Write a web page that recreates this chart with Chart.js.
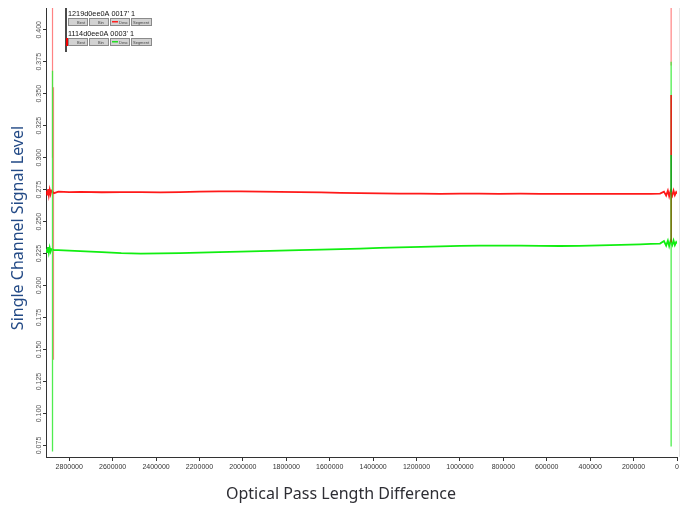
<!DOCTYPE html>
<html lang="en">
<head>
<meta charset="UTF-8">
<title>Single Channel Signal Level</title>
<style>
  html, body { margin: 0; padding: 0; background: #fff; }
  #wrap { width: 688px; height: 506px; }
</style>
</head>
<body>
<div id="wrap"><canvas id="myChart" width="688" height="506"></canvas></div>

<script src="https://cdn.jsdelivr.net/npm/chart.js"></script>
<script>
// ---- data ----
const legendNames = ["1219d0ee0A 0017' 1", "1114d0ee0A 0003' 1"];
const xTicks = [0, 200000, 400000, 600000, 800000, 1000000, 1200000, 1400000,
  1600000, 1800000, 2000000, 2200000, 2400000, 2600000, 2800000];
const yTicks = [0.075, 0.100, 0.125, 0.150, 0.175, 0.200, 0.225, 0.250,
  0.275, 0.300, 0.325, 0.350, 0.375, 0.400];

const redX = [2906000, 2902000, 2898000, 2894000, 2890000, 2886000, 2882000, 2870000, 2850000, 2800000,
  2750000, 2650000, 2560000, 2470000, 2380000, 2290000, 2200000, 2110000, 2010000, 1920000,
  1830000, 1740000, 1640000, 1550000, 1460000, 1370000, 1280000, 1180000, 1090000, 1000000,
  910000, 820000, 720000, 630000, 540000, 450000, 355000, 260000, 170000, 120000,
  78000, 60000, 50000, 42000, 36000, 30000, 22000, 16000, 10000, 4000, 0];
const redY = [0.27422, 0.27109, 0.27539, 0.27070, 0.27500, 0.27148, 0.27422, 0.27227, 0.27344, 0.27305,
  0.27320, 0.27297, 0.27305, 0.27313, 0.27281, 0.27305, 0.27344, 0.27359, 0.27359, 0.27344,
  0.27320, 0.27305, 0.27281, 0.27250, 0.27227, 0.27203, 0.27188, 0.27188, 0.27172, 0.27188,
  0.27188, 0.27172, 0.27188, 0.27172, 0.27164, 0.27172, 0.27164, 0.27172, 0.27172, 0.27172,
  0.27188, 0.27344, 0.27031, 0.27422, 0.26992, 0.27383, 0.27031, 0.27422, 0.27070, 0.27305, 0.27188];

const greenX = redX;
const greenY = [0.22891, 0.22617, 0.23008, 0.22578, 0.22969, 0.22656, 0.22852, 0.22773, 0.22773, 0.22734,
  0.22695, 0.22617, 0.22539, 0.22500, 0.22516, 0.22539, 0.22578, 0.22617, 0.22656, 0.22695,
  0.22734, 0.22773, 0.22813, 0.22852, 0.22891, 0.22945, 0.22984, 0.23031, 0.23063, 0.23102,
  0.23125, 0.23125, 0.23125, 0.23109, 0.23094, 0.23109, 0.23141, 0.23180, 0.23219, 0.23258,
  0.23281, 0.23477, 0.23125, 0.23516, 0.23086, 0.23477, 0.23164, 0.23516, 0.23164, 0.23398, 0.23281];

// vertical excursions at both ends
const redSpikeX = [2877000, 2877000, null, 2872500, 2872500, null, 27000, 27000];
const redSpikeY = [0.432, 0.300, null, 0.355, 0.142, null, 0.432, 0.372];
const greenSpikeX = [2877000, 2877000, null, 27000, 27000];
const greenSpikeY = [0.368, 0.0703, null, 0.375, 0.0742];
const redMarkX = [27000, 27000];
const redMarkY = [0.349, 0.302];
const darkMarkX = [27000, 27000];
const darkMarkY = [0.302, 0.2727];
const oliveMarkX = [27000, 27000];
const oliveMarkY = [0.2727, 0.2336];

function pts(xs, ys) {
  return xs.map((x, i) => (x === null ? { x: xs[i - 1], y: null } : { x: x, y: ys[i] }));
}

const chartLayout = {
  id: 'chartLayout',
  afterDraw(chart) {
    const ctx = chart.ctx;
    const area = chart.chartArea;
    const yScale = chart.scales.y;
    ctx.save();

    // faint right frame line
    ctx.strokeStyle = '#e4e4e4';
    ctx.lineWidth = 1;
    ctx.beginPath();
    ctx.moveTo(area.right + 2.5, area.top);
    ctx.lineTo(area.right + 2.5, area.bottom);
    ctx.stroke();

    // rotated y tick labels
    ctx.fillStyle = '#555';
    ctx.font = '7px "Liberation Sans", Arial, sans-serif';
    ctx.textAlign = 'center';
    ctx.textBaseline = 'middle';
    yScale.ticks.forEach(t => {
      const py = yScale.getPixelForValue(t.value);
      ctx.save();
      ctx.translate(39, py);
      ctx.rotate(-Math.PI / 2);
      ctx.fillText(t.value.toFixed(3), 0, 0);
      ctx.restore();
    });

    // axis titles
    ctx.font = '16px "Noto Sans", sans-serif';
    ctx.fillStyle = '#234a86';
    ctx.save();
    ctx.translate(18, 228);
    ctx.rotate(-Math.PI / 2);
    ctx.fillText('Single Channel Signal Level', 0, 0);
    ctx.restore();
    ctx.fillStyle = '#2e2e34';
    ctx.fillText('Optical Pass Length Difference', 341, 494);

    // legend box
    ctx.fillStyle = '#4a4a4a';
    ctx.fillRect(65, 8, 2, 44);
    const rows = [
      { name: legendNames[0], ty: 13.5, by: 18, col: '#ff2020' },
      { name: legendNames[1], ty: 33.5, by: 38, col: '#22dd22' }
    ];
    const btns = [[68, 20, 'Best'], [89, 20, 'Bin'], [110, 20, 'Desc'], [131, 21, 'Segment']];
    rows.forEach((r, k) => {
      ctx.font = '7.3px "Liberation Sans", Arial, sans-serif';
      ctx.textAlign = 'left';
      ctx.fillStyle = '#111';
      ctx.fillText(r.name, 68, r.ty);
      btns.forEach((b, i) => {
        ctx.fillStyle = '#d2d2d2';
        ctx.fillRect(b[0], r.by, b[1], 8);
        ctx.strokeStyle = '#8a8a8a';
        ctx.strokeRect(b[0] + 0.5, r.by + 0.5, b[1] - 1, 7);
        ctx.fillStyle = '#444';
        ctx.font = '4px "Liberation Sans", Arial, sans-serif';
        ctx.fillText(b[2], b[0] + (i === 3 ? 2 : 9), r.by + 5);
        if (i === 2) {
          ctx.fillStyle = r.col;
          ctx.fillRect(b[0] + 2, r.by + 3, 6, 1.5);
        }
      });
      if (k === 1) {
        ctx.fillStyle = '#ee0000';
        ctx.fillRect(66, r.by, 2, 8);
      }
    });
    ctx.restore();
  }
};

const ctx = document.getElementById('myChart').getContext('2d');
new Chart(ctx, {
  type: 'line',
  data: {
    datasets: [
      { data: pts(oliveMarkX, oliveMarkY), borderColor: '#7a6a08', borderWidth: 1.5, order: -3 },
      { data: pts(darkMarkX, darkMarkY), borderColor: '#189a18', borderWidth: 1.5, order: -2 },
      { data: pts(redMarkX, redMarkY), borderColor: '#ee1010', borderWidth: 1.5, order: -1 },
      { data: pts(greenSpikeX, greenSpikeY), borderColor: 'rgba(60,235,60,0.9)', borderWidth: 1.3, order: 0 },
      { data: pts(greenX, greenY), borderColor: '#11ee11', borderWidth: 1.8, order: 1 },
      { data: pts(redX, redY), borderColor: 'rgba(255,0,0,0.9)', borderWidth: 1.8, order: 2 },
      { data: pts(redSpikeX, redSpikeY), borderColor: 'rgba(255,90,90,0.75)', borderWidth: 1.2, order: 3 }
    ]
  },
  options: {
    responsive: false,
    animation: false,
    spanGaps: false,
    elements: { point: { radius: 0 }, line: { tension: 0, fill: false } },
    layout: { padding: { top: 8, right: 11, left: 0, bottom: 0 } },
    plugins: { legend: { display: false }, tooltip: { enabled: false } },
    scales: {
      x: {
        type: 'linear',
        reverse: true,
        min: 0,
        max: 2907000,
        afterBuildTicks(scale) { scale.ticks = xTicks.map(v => ({ value: v })); },
        afterFit(scale) { scale.height = 49; },
        border: { display: true, color: '#333', width: 1 },
        grid: { display: true, drawOnChartArea: false, drawTicks: true, tickLength: 4, color: '#333' },
        ticks: {
          autoSkip: false,
          maxRotation: 0,
          minRotation: 0,
          padding: 2,
          color: '#333',
          font: { size: 7, family: '"Liberation Sans", Arial, sans-serif' },
          callback: v => String(v)
        }
      },
      y: {
        type: 'linear',
        min: 0.066,
        max: 0.417,
        afterBuildTicks(scale) { scale.ticks = yTicks.map(v => ({ value: v })); },
        afterFit(scale) { scale.width = 46; },
        border: { display: true, color: '#333', width: 1 },
        grid: { display: true, drawOnChartArea: false, drawTicks: true, tickLength: 3, color: '#333' },
        ticks: {
          autoSkip: false,
          color: 'rgba(0,0,0,0)',
          font: { size: 7 },
          callback: v => v.toFixed(3)
        }
      }
    }
  },
  plugins: [chartLayout]
});
</script>
</body>
</html>
